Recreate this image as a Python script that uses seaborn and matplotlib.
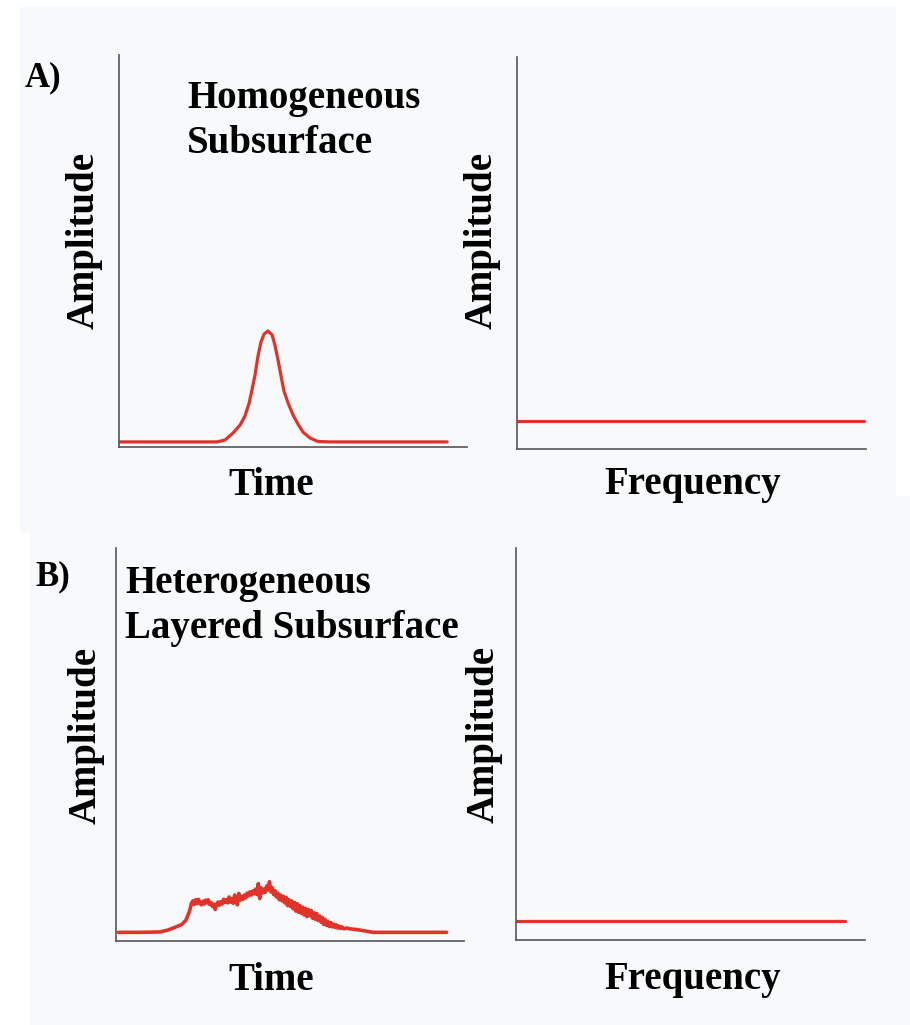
import matplotlib
matplotlib.use("Agg")
import matplotlib.pyplot as plt
import seaborn as sns
from matplotlib.patches import Rectangle

# ---- data (arbitrary units, axes run 0..10) ----
homog_time = [0.00, 2.82, 3.05, 3.28, 3.48, 3.62, 3.74, 3.82, 3.91, 3.99, 4.08,
              4.17, 4.28, 4.40, 4.48, 4.57, 4.66, 4.74, 4.86, 5.00, 5.14, 5.29,
              5.49, 5.72, 6.06, 9.43]
homog_amp = [0.13, 0.13, 0.18, 0.36, 0.56, 0.79, 1.12, 1.45, 1.84, 2.30, 2.68,
             2.88, 2.96, 2.86, 2.60, 2.22, 1.79, 1.43, 1.12, 0.82, 0.59, 0.38,
             0.23, 0.14, 0.13, 0.13]

homog_freq = [0.00, 9.94]
homog_spec = [0.72, 0.72]

hetero_time = [0.07, 0.69, 1.26, 1.50, 1.70, 1.89, 2.01, 2.11,
               2.17, 2.21, 2.25, 2.29, 2.33, 2.37, 2.41, 2.45, 2.49, 2.53,
               2.57, 2.61, 2.65, 2.69, 2.73, 2.77, 2.81, 2.85, 2.89, 2.93,
               2.97, 3.01, 3.05, 3.09, 3.13, 3.17, 3.21, 3.25, 3.29, 3.33,
               3.37, 3.41, 3.45, 3.49, 3.53, 3.57, 3.61, 3.65, 3.69, 3.73,
               3.77, 3.81, 3.85, 3.89, 3.93, 3.97, 4.01, 4.05, 4.09, 4.13,
               4.17, 4.21, 4.25, 4.29, 4.33, 4.37, 4.41, 4.45, 4.49, 4.53,
               4.57, 4.61, 4.65, 4.69, 4.73, 4.77, 4.81, 4.85, 4.89, 4.93,
               4.97, 5.01, 5.05, 5.09, 5.13, 5.17, 5.21, 5.25, 5.29, 5.33,
               5.37, 5.41, 5.45, 5.49, 5.53, 5.57, 5.61, 5.65, 5.69, 5.73,
               5.77, 5.81, 5.85, 5.89, 5.93, 5.97, 6.01, 6.05, 6.09, 6.13,
               6.17, 6.21, 6.25, 6.29, 6.33, 6.37, 6.41, 6.45, 6.49, 6.55,
               6.63, 6.72, 6.92, 7.20, 7.39, 8.16, 9.50]
hetero_amp = [0.22, 0.22, 0.23, 0.28, 0.35, 0.42, 0.53, 0.75,
              0.96, 1.02, 0.93, 1.05, 0.95, 1.06, 0.97, 0.92, 1.01, 0.94,
              1.04, 0.97, 1.05, 0.93, 0.98, 0.88, 0.94, 0.80, 0.93, 0.99,
              0.91, 1.00, 0.94, 1.06, 0.98, 1.05, 0.97, 1.12, 0.99, 1.08,
              0.96, 1.17, 1.02, 0.92, 1.21, 1.04, 1.14, 1.06, 1.17, 1.10,
              1.22, 1.15, 1.25, 1.17, 1.27, 1.20, 1.32, 1.18, 1.46, 1.08,
              1.35, 1.22, 1.32, 1.24, 1.40, 1.30, 1.51, 1.25, 1.36, 1.18,
              1.28, 1.12, 1.22, 1.05, 1.17, 1.02, 1.14, 0.97, 1.11, 0.90,
              1.05, 0.88, 1.02, 0.82, 0.98, 0.76, 0.95, 0.73, 0.90, 0.70,
              0.86, 0.66, 0.83, 0.62, 0.80, 0.64, 0.78, 0.58, 0.72, 0.55,
              0.70, 0.52, 0.64, 0.48, 0.60, 0.42, 0.55, 0.40, 0.50, 0.37,
              0.47, 0.36, 0.43, 0.35, 0.41, 0.33, 0.38, 0.32, 0.36, 0.31,
              0.33, 0.31, 0.29, 0.25, 0.22, 0.22, 0.22]

hetero_freq = [0.00, 9.43]
hetero_spec = [0.48, 0.48]

title_a = "Homogeneous\nSubsurface"
title_b = "Heterogeneous\nLayered Subsurface"

RED = "#e0332a"
BG = "#f8f9fb"
W, H = 910, 1025

sns.set_style("white")
plt.rcParams["font.family"] = ["Liberation Serif", "DejaVu Serif"]
plt.rcParams["font.weight"] = "bold"
plt.rcParams["text.color"] = "black"
plt.rcParams["axes.labelcolor"] = "black"

fig = plt.figure(figsize=(9.1, 10.25), dpi=100, facecolor="white")

# panel backgrounds (pasted-image look)
fig.patches.append(Rectangle((30 / W, 0), 880 / W, 529 / H, transform=fig.transFigure,
                             facecolor=BG, edgecolor="none", zorder=-2))
fig.patches.append(Rectangle((20 / W, 1 - 533 / H), 876 / W, 526 / H, transform=fig.transFigure,
                             facecolor=BG, edgecolor="none", zorder=-2))


def px_axes(left, right, top, bottom):
    ax = fig.add_axes([left / W, 1 - bottom / H, (right - left) / W, (bottom - top) / H])
    ax.set_zorder(2)
    return ax


panels = [
    (px_axes(119, 467, 55, 447), homog_time, homog_amp, 2.3, "Time", (0.437, -0.098), (-0.10, 0.528)),
    (px_axes(517, 866, 57, 449), homog_freq, homog_spec, 2.3, "Frequency", (0.504, -0.09), (-0.10, 0.533)),
    (px_axes(116, 464, 548, 941), hetero_time, hetero_amp, 2.6, "Time", (0.445, -0.10), (-0.085, 0.524)),
    (px_axes(516, 865, 548, 940), hetero_freq, hetero_spec, 2.3, "Frequency", (0.507, -0.10), (-0.092, 0.524)),
]

for ax, xs, ys, lw, xlab, xpos, ypos in panels:
    sns.lineplot(x=xs, y=ys, ax=ax, color=RED, linewidth=lw, sort=False, estimator=None)
    ax.set_xlim(0, 10)
    ax.set_ylim(0, 10)
    ax.set_facecolor("none")
    ax.set_xticks([])
    ax.set_yticks([])
    for side in ["top", "right"]:
        ax.spines[side].set_visible(False)
    for side in ["left", "bottom"]:
        ax.spines[side].set_color("#555555")
        ax.spines[side].set_linewidth(1.2)
    ax.set_xlabel(xlab, fontsize=28, fontweight="bold", va="center")
    ax.xaxis.set_label_coords(*xpos)
    ax.set_ylabel("Amplitude", fontsize=28, fontweight="bold", va="center")
    ax.yaxis.set_label_coords(*ypos)

fig.text(25 / W, 1 - 78 / H, "A)", fontsize=25, fontweight="bold", ha="left", va="center")
fig.text(35 / W, 1 - 577 / H, "B)", fontsize=25, fontweight="bold", ha="left", va="center")
fig.text(187 / W, 1 - 80 / H, title_a, fontsize=28, fontweight="bold",
         ha="left", va="top", linespacing=1.3)
fig.text(125 / W, 1 - 565 / H, title_b, fontsize=28, fontweight="bold",
         ha="left", va="top", linespacing=1.3)

fig.savefig("out.png", dpi=100, facecolor="white")
